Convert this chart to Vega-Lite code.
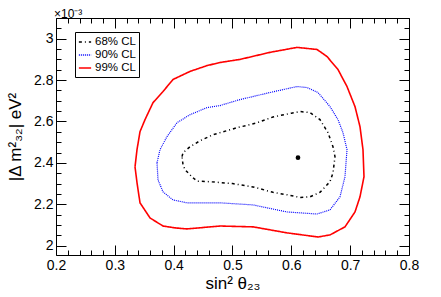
{
  "$schema": "https://vega.github.io/schema/vega-lite/v6.json",
  "width": 353,
  "height": 237,
  "autosize": "none",
  "padding": {"left": 56, "top": 18, "right": 32, "bottom": 42},
  "background": "white",
  "title": {"text": "×10⁻³", "anchor": "start", "frame": "group", "fontSize": 12, "font": "Liberation Sans", "fontWeight": "normal", "offset": 0, "dy": 3, "dx": -2},
  "config": {
    "view": {"stroke": null},
    "axis": {"domainColor": "black", "tickColor": "black", "labelFont": "Liberation Sans", "titleFont": "Liberation Sans", "labelColor": "black", "titleColor": "black", "titleFontWeight": "normal", "grid": false, "labelOverlap": false, "labelFlush": false, "labelFontSize": 14, "titleFontSize": 17},
    "legend": {"title": null, "orient": "none", "legendX": 19, "legendY": 14, "symbolType": "stroke", "symbolSize": 150, "symbolStrokeWidth": 1.5,
      "labelFont": "Liberation Sans", "labelFontSize": 11.5, "labelColor": "black", "labelOffset": 3, "rowPadding": 0, "padding": 3, "strokeColor": "black", "fillColor": "white", "cornerRadius": 0}
  },
  "datasets": {
    "best": [{"x": 0.6113, "y": 2.425}],
    "cont": [
        {"cl": "99% CL", "i": 0, "x": 0.3343, "y": 2.381},
        {"cl": "99% CL", "i": 1, "x": 0.3377, "y": 2.464},
        {"cl": "99% CL", "i": 2, "x": 0.3428, "y": 2.551},
        {"cl": "99% CL", "i": 3, "x": 0.3513, "y": 2.609},
        {"cl": "99% CL", "i": 4, "x": 0.3649, "y": 2.691},
        {"cl": "99% CL", "i": 5, "x": 0.3819, "y": 2.745},
        {"cl": "99% CL", "i": 6, "x": 0.3989, "y": 2.803},
        {"cl": "99% CL", "i": 7, "x": 0.4278, "y": 2.842},
        {"cl": "99% CL", "i": 8, "x": 0.4567, "y": 2.870},
        {"cl": "99% CL", "i": 9, "x": 0.4788, "y": 2.885},
        {"cl": "99% CL", "i": 10, "x": 0.5128, "y": 2.900},
        {"cl": "99% CL", "i": 11, "x": 0.5637, "y": 2.934},
        {"cl": "99% CL", "i": 12, "x": 0.6096, "y": 2.958},
        {"cl": "99% CL", "i": 13, "x": 0.6436, "y": 2.948},
        {"cl": "99% CL", "i": 14, "x": 0.6606, "y": 2.914},
        {"cl": "99% CL", "i": 15, "x": 0.6793, "y": 2.851},
        {"cl": "99% CL", "i": 16, "x": 0.6946, "y": 2.769},
        {"cl": "99% CL", "i": 17, "x": 0.7082, "y": 2.672},
        {"cl": "99% CL", "i": 18, "x": 0.7167, "y": 2.575},
        {"cl": "99% CL", "i": 19, "x": 0.7218, "y": 2.464},
        {"cl": "99% CL", "i": 20, "x": 0.7235, "y": 2.333},
        {"cl": "99% CL", "i": 21, "x": 0.7167, "y": 2.236},
        {"cl": "99% CL", "i": 22, "x": 0.7082, "y": 2.163},
        {"cl": "99% CL", "i": 23, "x": 0.6912, "y": 2.091},
        {"cl": "99% CL", "i": 24, "x": 0.6657, "y": 2.052},
        {"cl": "99% CL", "i": 25, "x": 0.6453, "y": 2.042},
        {"cl": "99% CL", "i": 26, "x": 0.5926, "y": 2.062},
        {"cl": "99% CL", "i": 27, "x": 0.5349, "y": 2.091},
        {"cl": "99% CL", "i": 28, "x": 0.4788, "y": 2.095},
        {"cl": "99% CL", "i": 29, "x": 0.4227, "y": 2.081},
        {"cl": "99% CL", "i": 30, "x": 0.4023, "y": 2.086},
        {"cl": "99% CL", "i": 31, "x": 0.3819, "y": 2.095},
        {"cl": "99% CL", "i": 32, "x": 0.3598, "y": 2.134},
        {"cl": "99% CL", "i": 33, "x": 0.3428, "y": 2.207},
        {"cl": "99% CL", "i": 34, "x": 0.3377, "y": 2.304},
        {"cl": "99% CL", "i": 35, "x": 0.3343, "y": 2.381},
        {"cl": "90% CL", "i": 0, "x": 0.3717, "y": 2.401},
        {"cl": "90% CL", "i": 1, "x": 0.3768, "y": 2.464},
        {"cl": "90% CL", "i": 2, "x": 0.3887, "y": 2.527},
        {"cl": "90% CL", "i": 3, "x": 0.4057, "y": 2.594},
        {"cl": "90% CL", "i": 4, "x": 0.4278, "y": 2.633},
        {"cl": "90% CL", "i": 5, "x": 0.4567, "y": 2.667},
        {"cl": "90% CL", "i": 6, "x": 0.4788, "y": 2.677},
        {"cl": "90% CL", "i": 7, "x": 0.5128, "y": 2.706},
        {"cl": "90% CL", "i": 8, "x": 0.5637, "y": 2.740},
        {"cl": "90% CL", "i": 9, "x": 0.6096, "y": 2.769},
        {"cl": "90% CL", "i": 10, "x": 0.6266, "y": 2.764},
        {"cl": "90% CL", "i": 11, "x": 0.6453, "y": 2.740},
        {"cl": "90% CL", "i": 12, "x": 0.6657, "y": 2.672},
        {"cl": "90% CL", "i": 13, "x": 0.6793, "y": 2.609},
        {"cl": "90% CL", "i": 14, "x": 0.6878, "y": 2.546},
        {"cl": "90% CL", "i": 15, "x": 0.6946, "y": 2.464},
        {"cl": "90% CL", "i": 16, "x": 0.6912, "y": 2.333},
        {"cl": "90% CL", "i": 17, "x": 0.6827, "y": 2.236},
        {"cl": "90% CL", "i": 18, "x": 0.6657, "y": 2.173},
        {"cl": "90% CL", "i": 19, "x": 0.6436, "y": 2.153},
        {"cl": "90% CL", "i": 20, "x": 0.5926, "y": 2.163},
        {"cl": "90% CL", "i": 21, "x": 0.5349, "y": 2.197},
        {"cl": "90% CL", "i": 22, "x": 0.4788, "y": 2.207},
        {"cl": "90% CL", "i": 23, "x": 0.4227, "y": 2.207},
        {"cl": "90% CL", "i": 24, "x": 0.3989, "y": 2.221},
        {"cl": "90% CL", "i": 25, "x": 0.3819, "y": 2.260},
        {"cl": "90% CL", "i": 26, "x": 0.3734, "y": 2.318},
        {"cl": "90% CL", "i": 27, "x": 0.3717, "y": 2.401},
        {"cl": "68% CL", "i": 0, "x": 0.4142, "y": 2.430},
        {"cl": "68% CL", "i": 1, "x": 0.4159, "y": 2.449},
        {"cl": "68% CL", "i": 2, "x": 0.4278, "y": 2.478},
        {"cl": "68% CL", "i": 3, "x": 0.4448, "y": 2.507},
        {"cl": "68% CL", "i": 4, "x": 0.4669, "y": 2.536},
        {"cl": "68% CL", "i": 5, "x": 0.5077, "y": 2.570},
        {"cl": "68% CL", "i": 6, "x": 0.5400, "y": 2.592},
        {"cl": "68% CL", "i": 7, "x": 0.5688, "y": 2.622},
        {"cl": "68% CL", "i": 8, "x": 0.6000, "y": 2.640},
        {"cl": "68% CL", "i": 9, "x": 0.6147, "y": 2.648},
        {"cl": "68% CL", "i": 10, "x": 0.6317, "y": 2.643},
        {"cl": "68% CL", "i": 11, "x": 0.6487, "y": 2.609},
        {"cl": "68% CL", "i": 12, "x": 0.6623, "y": 2.546},
        {"cl": "68% CL", "i": 13, "x": 0.6708, "y": 2.478},
        {"cl": "68% CL", "i": 14, "x": 0.6742, "y": 2.430},
        {"cl": "68% CL", "i": 15, "x": 0.6708, "y": 2.352},
        {"cl": "68% CL", "i": 16, "x": 0.6657, "y": 2.309},
        {"cl": "68% CL", "i": 17, "x": 0.6487, "y": 2.258},
        {"cl": "68% CL", "i": 18, "x": 0.6317, "y": 2.236},
        {"cl": "68% CL", "i": 19, "x": 0.6150, "y": 2.233},
        {"cl": "68% CL", "i": 20, "x": 0.5926, "y": 2.246},
        {"cl": "68% CL", "i": 21, "x": 0.5688, "y": 2.258},
        {"cl": "68% CL", "i": 22, "x": 0.5349, "y": 2.284},
        {"cl": "68% CL", "i": 23, "x": 0.5000, "y": 2.300},
        {"cl": "68% CL", "i": 24, "x": 0.4618, "y": 2.309},
        {"cl": "68% CL", "i": 25, "x": 0.4397, "y": 2.312},
        {"cl": "68% CL", "i": 26, "x": 0.4329, "y": 2.328},
        {"cl": "68% CL", "i": 27, "x": 0.4193, "y": 2.367},
        {"cl": "68% CL", "i": 28, "x": 0.4159, "y": 2.391},
        {"cl": "68% CL", "i": 29, "x": 0.4142, "y": 2.430}
    ]
  },
  "resolve": {"axis": {"x": "independent", "y": "independent"}},
  "layer": [
    {
      "data": {"name": "cont"},
      "transform": [{"filter": "datum.cl === '99% CL'"}],
      "mark": {"type": "line", "strokeWidth": 1.6},
      "encoding": {
        "x": {"field": "x", "type": "quantitative", "scale": {"domain": [0.2, 0.8], "nice": false, "zero": false},
          "axis": {"orient": "bottom", "title": "sin² θ₂₃", "titlePadding": 3,
            "values": [0.2, 0.3, 0.4, 0.5, 0.6, 0.7, 0.8],
            "labelExpr": "format(datum.value, '.1f')",
            "tickSize": -10, "labelPadding": 13}},
        "y": {"field": "y", "type": "quantitative", "scale": {"domain": [1.955, 3.1], "nice": false, "zero": false},
          "axis": {"orient": "left", "title": "|Δ m²₃₂| eV²", "titlePadding": 9,
            "values": [2, 2.2, 2.4, 2.6, 2.8, 3],
            "labelExpr": "format(datum.value, '~g')",
            "tickSize": -10, "labelPadding": 13}},
        "order": {"field": "i", "type": "quantitative"},
        "color": {"field": "cl", "type": "nominal", "scale": {"domain": ["68% CL", "90% CL", "99% CL"], "range": ["black", "blue", "red"]}},
        "strokeDash": {"field": "cl", "type": "nominal", "scale": {"domain": ["68% CL", "90% CL", "99% CL"], "range": [[3, 3, 1, 3], [1, 1], [1, 0]]}}
      }
    },
    {
      "data": {"name": "cont"},
      "transform": [{"filter": "datum.cl === '90% CL'"}],
      "mark": {"type": "line", "strokeWidth": 1.2},
      "encoding": {
        "x": {"field": "x", "type": "quantitative", "scale": {"domain": [0.2, 0.8], "nice": false, "zero": false},
          "axis": {"orient": "bottom", "title": null, "labels": false, "domain": false,
            "values": [0.22,0.24,0.26,0.28,0.32,0.34,0.36,0.38,0.42,0.44,0.46,0.48,0.52,0.54,0.56,0.58,0.62,0.64,0.66,0.68,0.72,0.74,0.76,0.78],
            "tickSize": -5}},
        "y": {"field": "y", "type": "quantitative", "scale": {"domain": [1.955, 3.1], "nice": false, "zero": false},
          "axis": {"orient": "left", "title": null, "labels": false, "domain": false,
            "values": [2.05,2.1,2.15,2.25,2.3,2.35,2.45,2.5,2.55,2.65,2.7,2.75,2.85,2.9,2.95,3.05,3.1],
            "tickSize": -5}},
        "order": {"field": "i", "type": "quantitative"},
        "color": {"field": "cl", "type": "nominal", "scale": {"domain": ["68% CL", "90% CL", "99% CL"], "range": ["black", "blue", "red"]}},
        "strokeDash": {"field": "cl", "type": "nominal", "scale": {"domain": ["68% CL", "90% CL", "99% CL"], "range": [[3, 3, 1, 3], [1, 1], [1, 0]]}}
      }
    },
    {
      "data": {"name": "cont"},
      "transform": [{"filter": "datum.cl === '68% CL'"}],
      "mark": {"type": "line", "strokeWidth": 1.5},
      "encoding": {
        "x": {"field": "x", "type": "quantitative", "scale": {"domain": [0.2, 0.8], "nice": false, "zero": false},
          "axis": {"orient": "top", "title": null, "labels": false,
            "values": [0.2, 0.3, 0.4, 0.5, 0.6, 0.7, 0.8],
            "tickSize": -10}},
        "y": {"field": "y", "type": "quantitative", "scale": {"domain": [1.955, 3.1], "nice": false, "zero": false},
          "axis": {"orient": "right", "title": null, "labels": false,
            "values": [2, 2.2, 2.4, 2.6, 2.8, 3],
            "tickSize": -10}},
        "order": {"field": "i", "type": "quantitative"},
        "color": {"field": "cl", "type": "nominal", "scale": {"domain": ["68% CL", "90% CL", "99% CL"], "range": ["black", "blue", "red"]}},
        "strokeDash": {"field": "cl", "type": "nominal", "scale": {"domain": ["68% CL", "90% CL", "99% CL"], "range": [[3, 3, 1, 3], [1, 1], [1, 0]]}}
      }
    },
    {
      "data": {"name": "best"},
      "mark": {"type": "point", "filled": true, "color": "black", "opacity": 1, "size": 22},
      "encoding": {
        "x": {"field": "x", "type": "quantitative", "scale": {"domain": [0.2, 0.8], "nice": false, "zero": false},
          "axis": {"orient": "top", "title": null, "labels": false, "domain": false,
            "values": [0.22,0.24,0.26,0.28,0.32,0.34,0.36,0.38,0.42,0.44,0.46,0.48,0.52,0.54,0.56,0.58,0.62,0.64,0.66,0.68,0.72,0.74,0.76,0.78],
            "tickSize": -5}},
        "y": {"field": "y", "type": "quantitative", "scale": {"domain": [1.955, 3.1], "nice": false, "zero": false},
          "axis": {"orient": "right", "title": null, "labels": false, "domain": false,
            "values": [2.05,2.1,2.15,2.25,2.3,2.35,2.45,2.5,2.55,2.65,2.7,2.75,2.85,2.9,2.95,3.05,3.1],
            "tickSize": -5}}
      }
    }
  ]
}
